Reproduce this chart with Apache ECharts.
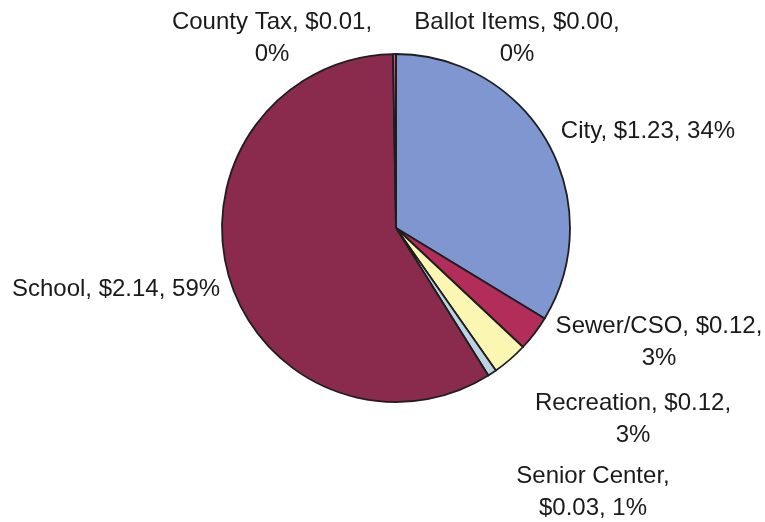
<!DOCTYPE html>
<html>
<head>
<meta charset="utf-8">
<script src="https://cdn.jsdelivr.net/npm/echarts@6/dist/echarts.min.js"></script>
<style>html,body{margin:0;padding:0;background:#fff}#c{width:765px;height:522px}</style>
</head>
<body>
<div id="c"></div>
<script>
var categories = ["City", "Sewer/CSO", "Recreation", "Senior Center", "School", "County Tax", "Ballot Items"];
var values = [1.23, 0.12, 0.12, 0.03, 2.14, 0.01, 0.00];

var colors = ["#8096d0", "#b22d5a", "#fbf7b2", "#bcd3e3", "#8a2a4d", "#e05872", "#8096d0"];
// where each label's line break goes: 0 = single line, 1 = before percent, 2 = after name
var breakStyle = [0, 1, 1, 2, 0, 1, 1];
var labelPos = [[648, 131], [659, 342], [633, 419], [593, 492], [116, 289], [272, 38], [517, 38]];

var chart = echarts.init(document.getElementById('c'), null, {renderer: 'canvas'});
chart.setOption({
  animation: false,
  backgroundColor: '#ffffff',
  series: [{
    type: 'pie',
    center: [396, 228],
    radius: [0, 174],
    startAngle: 90,
    clockwise: true,
    percentPrecision: 0,
    avoidLabelOverlap: false,
    data: categories.map(function (n, i) {
      return {name: n, value: values[i], itemStyle: {color: colors[i]}};
    }),
    itemStyle: {borderColor: '#1e1e1e', borderWidth: 1.8},
    emphasis: {disabled: true},
    label: {
      show: true,
      position: 'outside',
      fontFamily: 'Liberation Sans, Arial, sans-serif',
      fontSize: 24,
      color: '#1a1a1a',
      lineHeight: 32,
      align: 'center',
      formatter: function (p) {
        var name = p.name, v = '$' + p.value.toFixed(2), pct = p.percent + '%';
        var b = breakStyle[p.dataIndex];
        if (b === 0) return name + ', ' + v + ', ' + pct;
        if (b === 1) return name + ', ' + v + ',\n' + pct;
        return name + ',\n' + v + ', ' + pct;
      }
    },
    labelLine: {show: false},
    labelLayout: function (params) {
      var p = labelPos[params.dataIndex];
      return {x: p[0], y: p[1], align: 'center', verticalAlign: 'middle', hideOverlap: false};
    }
  }]
});
</script>
</body>
</html>
